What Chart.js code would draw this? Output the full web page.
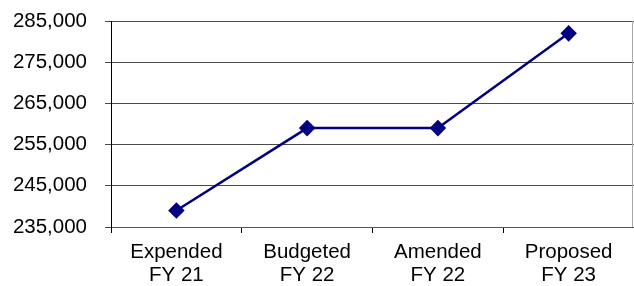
<!DOCTYPE html>
<html>
<head>
<meta charset="utf-8">
<script src="https://cdn.jsdelivr.net/npm/chart.js@4"></script>
<style>
html,body{margin:0;padding:0;background:#fff;}
#wrap{width:634px;height:286px;}
</style>
</head>
<body>
<div id="wrap"><canvas id="c" width="634" height="286"></canvas></div>
<script>
const categories = [["Expended","FY 21"],["Budgeted","FY 22"],["Amended","FY 22"],["Proposed","FY 23"]];
const values = [239000, 259000, 259000, 282000];
const yTicks = [235000, 245000, 255000, 265000, 275000, 285000];

const rightBorder = {
  id: 'rightBorder',
  afterDraw(chart) {
    const {ctx, chartArea} = chart;
    ctx.save();
    ctx.strokeStyle = '#aaaaaa';
    ctx.lineWidth = 1;
    ctx.beginPath();
    ctx.moveTo(chartArea.right - 1.5, chartArea.top);
    ctx.lineTo(chartArea.right - 1.5, chartArea.bottom);
    ctx.stroke();
    ctx.restore();
  }
};

new Chart(document.getElementById('c'), {
  type: 'line',
  data: {
    labels: categories,
    datasets: [{
      data: values,
      borderColor: '#000080',
      backgroundColor: '#000080',
      borderWidth: 2.5,
      pointStyle: 'rectRot',
      pointRadius: 6.5,
      pointHoverRadius: 6.5,
      tension: 0,
      fill: false
    }]
  },
  options: {
    responsive: false,
    animation: false,
    devicePixelRatio: 1,
    layout: { autoPadding: false, padding: { left: 0, right: 0, top: 21, bottom: 0 } },
    plugins: { legend: { display: false }, tooltip: { enabled: false } },
    scales: {
      x: {
        offset: true,
        afterFit(axis) { axis.height = 59; axis.paddingLeft = 0; axis.paddingRight = 0; },
        grid: { offset: true, drawOnChartArea: false, drawTicks: true, tickLength: 6, color: '#000' },
        border: { color: '#555', width: 1 },
        ticks: { color: '#000', font: { family: 'Liberation Sans', size: 20.5, lineHeight: 1.12 }, padding: 7.5, maxRotation: 0 }
      },
      y: {
        min: 235000, max: 285000,
        afterFit(axis) { axis.width = 111; axis.paddingTop = 0; axis.paddingBottom = 0; },
        afterBuildTicks(axis) { axis.ticks = yTicks.map(v => ({ value: v })); },
        grid: { color: '#4a4a4a', tickLength: 6, drawTicks: true },
        border: { color: '#000', width: 1 },
        ticks: {
          color: '#000',
          font: { family: 'Liberation Sans', size: 20.5 },
          padding: 18,
          callback: v => v.toLocaleString('en-US')
        }
      }
    }
  },
  plugins: [rightBorder]
});
</script>
</body>
</html>
